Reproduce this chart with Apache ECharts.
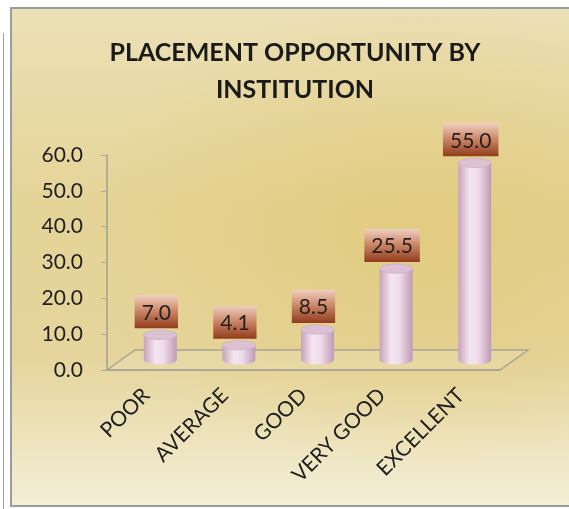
<!DOCTYPE html>
<html>
<head>
<meta charset="utf-8">
<script src="https://cdn.jsdelivr.net/npm/echarts@6/dist/echarts.min.js"></script>
<style>
    html, body { margin: 0; padding: 0; background: #fff; }
    #wrap { position: relative; width: 569px; height: 509px; overflow: hidden; }
    #edge { position: absolute; left: 3px; top: 33px; width: 1px; height: 480px; background: #a0a0a0; }
    #frame {
        position: absolute; left: 10px; top: 7px; width: 580px; height: 496px;
        border: 2px solid #9c9c9c;
        background:
            radial-gradient(ellipse at 70% 45%, rgba(224, 198, 112, 0.6), rgba(224, 198, 112, 0) 60%),
            linear-gradient(to bottom, #ebe0b6 0%, #e5d497 40%, #e5d59c 70%, #f4eed6 100%);
    }
    #chart { position: absolute; left: 0; top: 0; width: 569px; height: 509px; }
</style>
</head>
<body>
<div id="wrap">
    <div id="edge"></div>
    <div id="frame"></div>
    <div id="chart"></div>
</div>
<script>
    // data
    var categories = ['POOR', 'AVERAGE', 'GOOD', 'VERY GOOD', 'EXCELLENT'];
    var values = [7.0, 4.1, 8.5, 25.5, 55.0];
    var yTicks = [0, 10, 20, 30, 40, 50, 60];

    // layout of the front plane and the 3D depth shift
    var front = { left: 107, top: 155, width: 393, height: 215 };
    var depth = [28, -20];

    var myChart = echarts.init(document.getElementById('chart'));

    function cylinder(params, api) {
        var top = api.coord([api.value(0), api.value(1)]);
        var base = api.coord([api.value(0), 0]);
        var w = api.size([1, 0])[0] * 0.42;
        var ry = w * 0.14;
        var body = new echarts.graphic.LinearGradient(0, 0, 1, 0, [
            { offset: 0, color: '#c7a3bd' },
            { offset: 0.35, color: '#f4e6f0' },
            { offset: 0.6, color: '#efdcea' },
            { offset: 1, color: '#c09ab6' }
        ]);
        var labelBg = new echarts.graphic.LinearGradient(0, 0, 0, 1, [
            { offset: 0, color: '#efd0c0' },
            { offset: 0.45, color: '#cd8a6c' },
            { offset: 1, color: '#913c1c' }
        ]);
        return {
            type: 'group',
            children: [
                { type: 'ellipse', shape: { cx: base[0], cy: base[1], rx: w / 2, ry: ry }, style: { fill: body } },
                { type: 'rect', shape: { x: base[0] - w / 2, y: top[1], width: w, height: base[1] - top[1] }, style: { fill: body } },
                { type: 'ellipse', shape: { cx: top[0], cy: top[1], rx: w / 2, ry: ry }, style: { fill: '#dcc0d4', stroke: '#c9a9c0', lineWidth: 0.6 } },
                {
                    type: 'text',
                    x: top[0] - 4,
                    y: top[1] - ry - 2,
                    style: {
                        text: api.value(1).toFixed(1),
                        align: 'center',
                        verticalAlign: 'bottom',
                        font: '21px Lato',
                        fill: '#241e1c',
                        backgroundColor: labelBg,
                        padding: [7, 7, 5, 7]
                    }
                }
            ]
        };
    }

    var option = {
        title: {
            text: 'PLACEMENT OPPORTUNITY BY\nINSTITUTION',
            left: 290,
            top: 29,
            textAlign: 'center',
            textStyle: { fontFamily: 'Lato', fontWeight: 'bold', fontSize: 25, lineHeight: 37, color: '#1a1a1a' }
        },
        grid: [
            { left: front.left, top: front.top, width: front.width, height: front.height },
            { left: front.left + depth[0] / 2, top: front.top + depth[1] / 2, width: front.width, height: front.height }
        ],
        xAxis: [{
            gridIndex: 0,
            type: 'category',
            data: categories,
            axisLine: { lineStyle: { color: '#a39f94', width: 1.5 } },
            axisTick: { length: 5, lineStyle: { color: '#a39f94' } },
            axisLabel: { rotate: 45, margin: 22, fontFamily: 'Lato', fontSize: 21, color: '#1e1e1e' }
        }, {
            gridIndex: 1,
            type: 'category',
            data: categories,
            show: false
        }],
        yAxis: [{
            gridIndex: 0,
            type: 'value',
            min: yTicks[0],
            max: yTicks[yTicks.length - 1],
            interval: 10,
            splitLine: { show: false },
            axisLine: { show: true, lineStyle: { color: '#a39f94', width: 1.5 } },
            axisTick: { show: true, length: 6, lineStyle: { color: '#b0aa9c' } },
            axisLabel: {
                margin: 24,
                fontFamily: 'Lato',
                fontSize: 21,
                color: '#1e1e1e',
                formatter: function (v) { return v.toFixed(1); }
            }
        }, {
            gridIndex: 1,
            type: 'value',
            min: yTicks[0],
            max: yTicks[yTicks.length - 1],
            show: false
        }],
        series: [{
            type: 'custom',
            xAxisIndex: 1,
            yAxisIndex: 1,
            z: 5,
            data: values.map(function (v, i) { return [i, v]; }),
            renderItem: cylinder
        }],
        graphic: [{
            // floor of the 3D plot
            type: 'polygon',
            z: 1,
            shape: {
                points: [
                    [front.left, front.top + front.height],
                    [front.left + depth[0], front.top + front.height + depth[1]],
                    [front.left + front.width + depth[0], front.top + front.height + depth[1]],
                    [front.left + front.width, front.top + front.height]
                ]
            },
            style: { fill: 'rgba(235, 225, 185, 0.35)', stroke: '#a8a396', lineWidth: 1.5 }
        }]
    };

    myChart.setOption(option);
</script>
</body>
</html>
